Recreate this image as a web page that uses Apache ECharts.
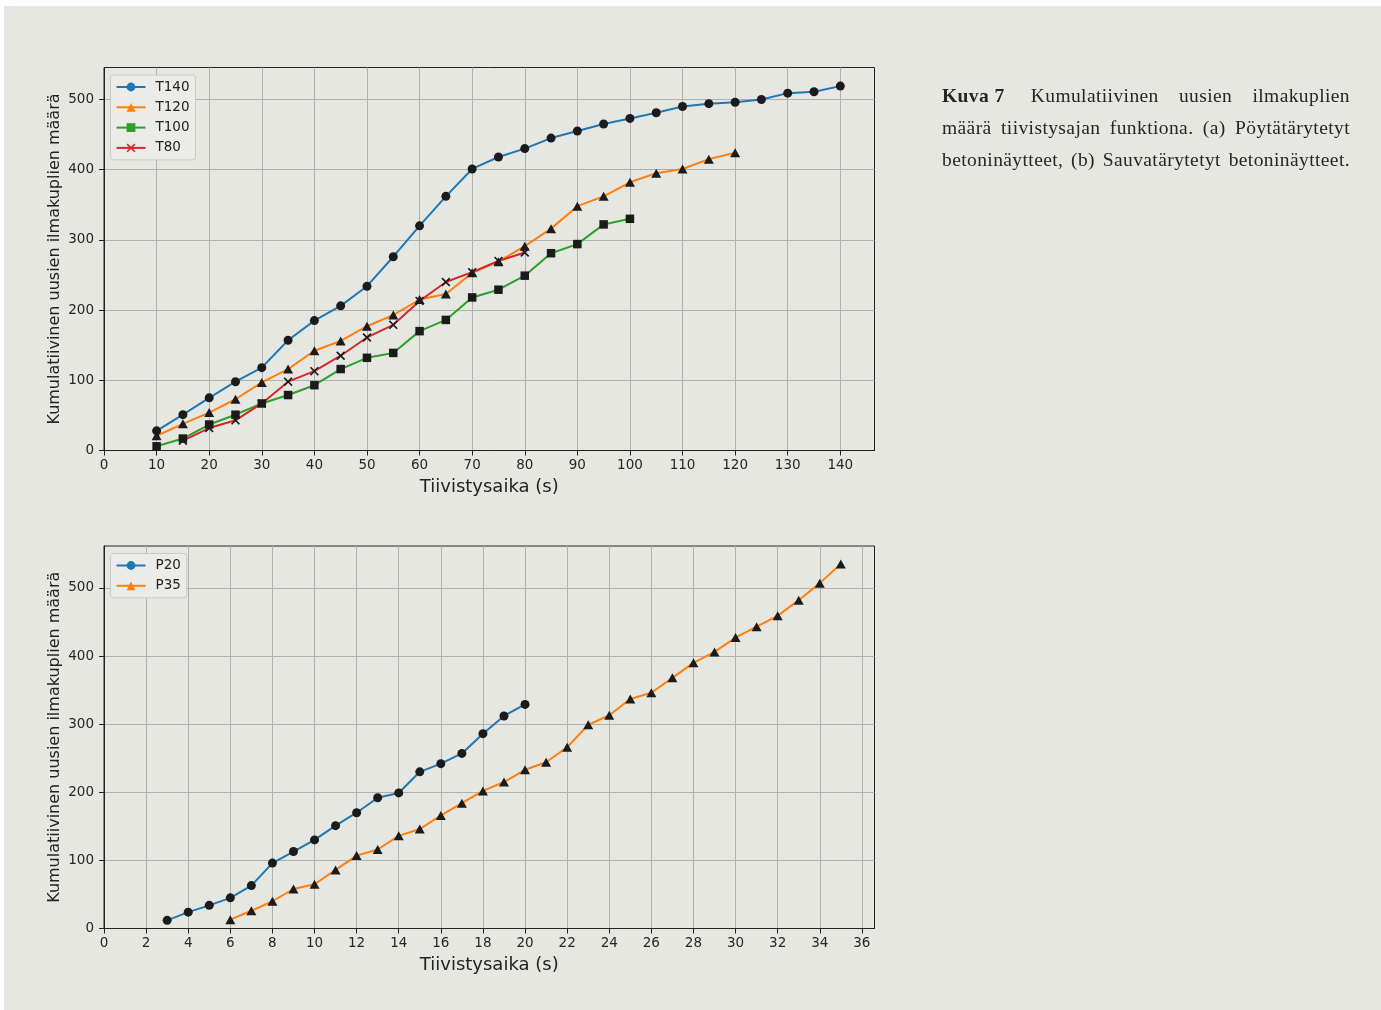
<!DOCTYPE html>
<html>
<head>
<meta charset="utf-8">
<script src="https://cdn.jsdelivr.net/npm/echarts@6/dist/echarts.min.js"></script>
<style>
html,body{margin:0;padding:0;background:#ffffff;width:1381px;height:1010px;overflow:hidden;}
#chart{position:absolute;left:4px;top:6px;width:1377px;height:1004px;background:#e7e7e2;}
#caption{position:absolute;left:942px;top:80px;width:408px;font-family:"Liberation Serif","DejaVu Serif",serif;font-size:19.5px;letter-spacing:0.4px;color:#262626;}
#caption div{height:32px;line-height:32px;white-space:nowrap;text-align:justify;text-align-last:justify;}
#caption b{font-weight:900;display:inline-block;margin-right:6px;}
</style>
</head>
<body>
<div id="chart"></div>
<div id="caption">
<div><b>Kuva 7</b> Kumulatiivinen uusien ilmakuplien</div>
<div>määrä tiivistysajan funktiona. (a) Pöytätärytetyt</div>
<div>betoninäytteet, (b) Sauvatärytetyt betoninäytteet.</div>
</div>
<script>
// ---- Data: chart (a) ----
const tT140 = [10,15,20,25,30,35,40,45,50,55,60,65,70,75,80,85,90,95,100,105,110,115,120,125,130,135,140];
const vT140 = [28,51,75,98,118,157,185,206,234,276,320,362,401,418,430,445,455,465,473,481,490,494,496,500,509,511,519];
const tT120 = [10,15,20,25,30,35,40,45,50,55,60,65,70,75,80,85,90,95,100,105,110,115,120];
const vT120 = [21,38,54,73,97,116,142,156,177,193,215,223,253,269,291,316,348,362,382,395,401,415,424];
const tT100 = [10,15,20,25,30,35,40,45,50,55,60,65,70,75,80,85,90,95,100];
const vT100 = [6,17,37,51,67,79,93,116,132,139,170,186,218,229,249,281,294,322,330];
const tT80 = [15,20,25,30,35,40,45,50,55,60,65,70,75,80];
const vT80 = [14,32,43,67,98,113,135,161,179,213,240,254,270,282];

// ---- Data: chart (b) ----
const tP20 = [3,4,5,6,7,8,9,10,11,12,13,14,15,16,17,18,19,20];
const vP20 = [12,24,34,45,63,96,113,130,151,170,192,199,230,242,257,286,312,329];
const tP35 = [6,7,8,9,10,11,12,13,14,15,16,17,18,19,20,21,22,23,24,25,26,27,28,29,30,31,32,33,34,35];
const vP35 = [13,26,40,58,65,86,107,116,136,146,166,184,202,215,233,244,266,299,313,337,346,368,390,406,427,443,459,482,507,535];

// ---- Tick labels ----
const xTicksA = [0,10,20,30,40,50,60,70,80,90,100,110,120,130,140];
const yTicksA = [0,100,200,300,400,500];
const xTicksB = [0,2,4,6,8,10,12,14,16,18,20,22,24,26,28,30,32,34,36];
const yTicksB = [0,100,200,300,400,500];

const xNameText = 'Tiivistysaika (s)';
const yNameText = 'Kumulatiivinen uusien ilmakuplien määrä';

const C = {blue:'#1f77b4', orange:'#ff7f0e', green:'#2ca02c', red:'#d62728'};
const MK = '#1b1b1b';
const FONT = 'DejaVu Sans';
const CROSS = 'path://M0,1.3L1.3,0L5,3.7L8.7,0L10,1.3L6.3,5L10,8.7L8.7,10L5,6.3L1.3,10L0,8.7L3.7,5Z';

const zip = (xs, ys) => xs.map((x, i) => [x, ys[i]]);

function xAxisCfg(idx, max, interval, ticks) {
  return {
    type:'value', gridIndex: idx, min:0, max:max, interval:interval,
    name: xNameText, nameLocation:'middle', nameGap:28, nameMoveOverlap:false,
    nameTextStyle:{fontFamily:FONT, fontSize:18, color:'#222'},
    axisLine:{show:true, onZero:false, lineStyle:{color:'#222', width:1}},
    axisTick:{show:true, inside:false, length:5, lineStyle:{color:'#222'}, customValues: ticks},
    axisLabel:{fontFamily:FONT, fontSize:13.5, color:'#262626', margin:8, customValues: ticks},
    splitLine:{show:true, lineStyle:{color:'#b0b0b0', width:1}}
  };
}
function yAxisCfg(idx, max, ticks) {
  return {
    type:'value', gridIndex: idx, min:0, max:max, interval:100,
    name: yNameText, nameLocation:'middle', nameGap:41, nameRotate:90, nameMoveOverlap:false,
    nameTextStyle:{fontFamily:FONT, fontSize:16, color:'#222'},
    axisLine:{show:true, onZero:false, lineStyle:{color:'#222', width:1}},
    axisTick:{show:true, inside:false, length:5, lineStyle:{color:'#222'}, customValues: ticks},
    axisLabel:{fontFamily:FONT, fontSize:13.5, color:'#262626', margin:10, customValues: ticks},
    splitLine:{show:true, lineStyle:{color:'#b0b0b0', width:1}}
  };
}
function lineSeries(name, data, color, symbol, size, gi) {
  return {
    type:'line', name:name, data:data, xAxisIndex:gi, yAxisIndex:gi,
    symbol:symbol, symbolSize:size, showAllSymbol:true, animation:false,
    lineStyle:{color:color, width:2},
    itemStyle:{color:MK},
    emphasis:{disabled:true}
  };
}
function legendCfg(top, items) {
  return {
    orient:'vertical', left:106.5, top:top, itemWidth:29, itemHeight:11, itemGap:6.3,
    padding:[5,6,5,5], backgroundColor:'#ebebe7', borderColor:'#c8c8c4', borderWidth:1, borderRadius:3,
    textStyle:{fontFamily:FONT, fontSize:13.5, color:'#222', padding:[0,0,0,5]},
    selectedMode:false,
    data: items.map(it => ({name:it[0], itemStyle:{color:it[1]}}))
  };
}

const chart = echarts.init(document.getElementById('chart'), null, {renderer:'canvas'});
chart.setOption({
  animation:false,
  backgroundColor:'transparent',
  grid:[
    {left:100, top:61.5, width:770.5, height:383, show:true, borderColor:'#222', borderWidth:1, backgroundColor:'transparent', containLabel:false},
    {left:100, top:540, width:770.5, height:382.5, show:true, borderColor:'#222', borderWidth:1, backgroundColor:'transparent', containLabel:false}
  ],
  xAxis:[ xAxisCfg(0, 146.5, 10, xTicksA), xAxisCfg(1, 36.6, 2, xTicksB) ],
  yAxis:[ yAxisCfg(0, 545.5, yTicksA), yAxisCfg(1, 561.5, yTicksB) ],
  legend:[
    legendCfg(69, [['T140',C.blue],['T120',C.orange],['T100',C.green],['T80',C.red]]),
    legendCfg(547.5, [['P20',C.blue],['P35',C.orange]])
  ],
  series:[
    lineSeries('T140', zip(tT140, vT140), C.blue, 'circle', 9, 0),
    lineSeries('T120', zip(tT120, vT120), C.orange, 'triangle', [10,9], 0),
    lineSeries('T100', zip(tT100, vT100), C.green, 'rect', 8.5, 0),
    lineSeries('T80', zip(tT80, vT80), C.red, CROSS, 9, 0),
    lineSeries('P20', zip(tP20, vP20), C.blue, 'circle', 9, 1),
    lineSeries('P35', zip(tP35, vP35), C.orange, 'triangle', [10,9], 1)
  ]
});
</script>
</body>
</html>
